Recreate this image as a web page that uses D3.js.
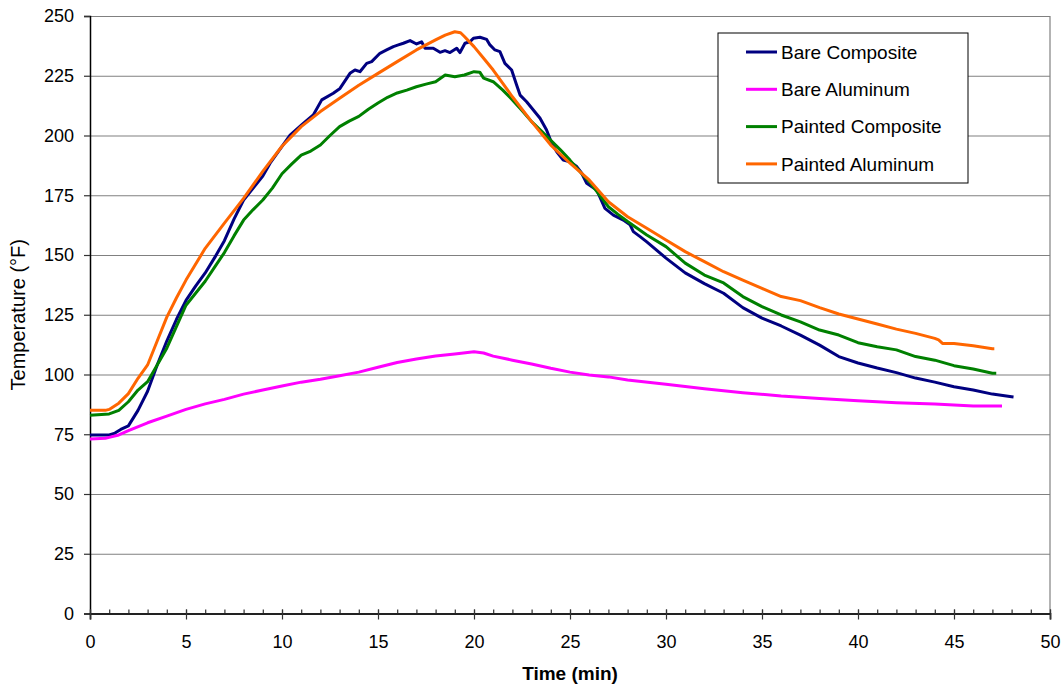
<!DOCTYPE html>
<html>
<head>
<meta charset="utf-8">
<script src="https://cdn.jsdelivr.net/npm/d3@7"></script>
<style>
  body { margin: 0; background: #fff; }
  text { font-family: "Liberation Sans", Arial, sans-serif; fill: #000; }
</style>
</head>
<body>
<svg id="chart"></svg>
<script>
// Set up the dimensions and margins of the plot
const width = 1064;
const height = 685;
const margin = { top: 16, right: 14, bottom: 71.5, left: 90 };

// series data (time in min, temperature in F)
const bareCompositeTime = [0, 1, 1.3, 1.6, 2, 2.5, 3, 3.5, 4, 4.5, 5, 5.5, 6, 6.5, 7, 7.5, 8, 8.5, 9, 9.38,
  10.42, 11.11, 11.63, 12.07, 12.67, 13.02, 13.54, 13.8, 14.06, 14.41, 14.67, 15.1, 15.45, 15.8, 16.06, 16.32,
  16.67, 17.01, 17.27, 17.45, 17.88, 18.23, 18.49, 18.75, 19.1, 19.27, 19.53, 19.79, 19.97, 20.31, 20.66, 20.83,
  21.09, 21.35, 21.61, 21.96, 22.22, 22.4, 22.74, 23.09, 23.44, 23.78, 24.05, 24.31, 24.65, 25, 25.35, 25.61,
  25.87, 26.39, 26.82, 27.26, 27.78, 28.13, 28.3, 28.65, 29, 30, 31, 32, 33, 34, 35, 36, 37, 38, 39, 40, 41,
  42, 43, 44, 45, 46, 47, 48, 48.1];
const bareCompositeTemp = [74.7, 74.7, 75.5, 77, 78.5, 85, 93, 104, 114, 123, 131, 137, 142.5, 149, 156, 165, 173, 178, 183, 188.4,
  200.2, 205.1, 208.6, 214.9, 217.7, 219.7, 226, 227.4, 226.7, 230.2, 230.9, 234.4, 235.8, 237.2, 237.9, 238.6,
  239.7, 238.3, 239.2, 236.5, 236.5, 234.8, 235.5, 234.7, 236.5, 234.7, 238.6, 239.2, 240.7, 241.1, 240.2, 237.9,
  235.8, 235.1, 230.2, 227.4, 221.1, 216.9, 214.1, 210.7, 207.2, 202.3, 196.7, 193.2, 189.7, 189, 187, 184.2,
  180, 177.2, 169.5, 166.7, 164.6, 162.6, 159.8, 157.7, 155.5, 148.7, 142.5, 138, 134, 128, 123.6, 120.3, 116.5,
  112.3, 107.5, 104.8, 102.7, 100.8, 98.5, 96.8, 94.9, 93.5, 91.8, 90.7, 90.6];

const bareAluminumTime = [0, 0.8, 1, 1.5, 2, 3, 4, 5, 6, 7, 8, 9, 10, 11, 12, 13, 14, 15, 16, 17, 18, 19, 20,
  20.5, 21, 22, 23, 24, 25, 26, 27, 28, 30, 32, 34, 36, 38, 40, 42, 44, 46, 47.5];
const bareAluminumTemp = [73, 73.3, 73.7, 74.7, 76.5, 79.8, 82.6, 85.4, 87.7, 89.6, 91.8, 93.5, 95.2, 96.8, 98, 99.5,
  101, 103, 105, 106.5, 107.7, 108.6, 109.5, 109, 107.7, 106, 104.4, 102.6, 101, 99.8, 99, 97.7, 95.9, 94, 92.4,
  91, 90, 89, 88.2, 87.7, 86.8, 86.8];

const paintedCompositeTime = [0, 1, 1.5, 2, 2.5, 3, 3.5, 4, 4.5, 5, 5.5, 6, 6.5, 7, 7.5, 8, 8.5, 9, 9.5, 10,
  10.5, 11, 11.5, 12, 12.5, 13, 13.5, 14, 14.5, 15, 15.5, 16, 16.5, 17, 17.5, 18, 18.5, 19, 19.5, 20, 20.3, 20.5,
  21, 21.5, 22, 22.5, 23, 23.5, 24, 24.5, 25, 25.5, 26, 26.5, 27, 27.5, 28, 29, 30, 31, 32, 33, 34, 35, 36, 37,
  38, 39, 40, 41, 42, 43, 44, 45, 46, 47, 47.2];
const paintedCompositeTemp = [83, 83.5, 85, 88.6, 93.5, 97, 104, 111, 120, 129, 134, 139, 145, 151, 158, 164.6,
  169, 173, 178, 184, 188, 191.8, 193.5, 196, 200, 203.7, 206, 208, 211, 213.6, 216, 217.8, 219, 220.4, 221.5,
  222.5, 225.3, 224.6, 225.3, 226.7, 226.5, 224, 222.5, 219, 214.9, 210.5, 205.8, 202, 198, 194, 189.7, 185,
  180.7, 175.5, 170.2, 167, 164, 158.4, 153.5, 146.6, 141.6, 138.3, 132.6, 128.4, 124.9, 122, 118.6, 116.5,
  113.3, 111.6, 110.3, 107.5, 106, 103.7, 102.3, 100.5, 100.5];

const paintedAluminumTime = [0, 0.8, 1, 1.5, 2, 2.5, 3, 3.5, 4, 4.5, 5, 6, 7, 8, 9, 10, 11, 12, 13, 14, 15, 16,
  17, 18, 18.5, 19, 19.3, 19.5, 20, 20.5, 21, 22, 23, 24, 25, 26, 27, 28, 29, 30, 31, 32, 33, 34, 35, 36, 37,
  38, 39, 40, 41, 42, 43, 44, 44.2, 44.4, 45, 46, 47, 47.1];
const paintedAluminumTemp = [85, 85, 85.4, 88, 92, 98.4, 104, 114, 124, 132, 139.5, 152.8, 163.3, 173.7, 185,
  195.5, 203.7, 210, 215.6, 221, 226, 230.9, 235.8, 240, 242, 243.4, 243, 241.4, 237.2, 232.3, 227.4, 216.2,
  205.8, 196, 188.4, 181.4, 172.3, 166, 161.2, 156.3, 151.4, 147.2, 143, 139.5, 136, 132.6, 130.9, 128, 125.3,
  123.2, 121.1, 119, 117.2, 115.1, 114.5, 113, 113, 112, 110.8, 110.8];

const seriesNames = ["Bare Composite", "Bare Aluminum", "Painted Composite", "Painted Aluminum"];
const seriesColors = ["#000080", "#ff00ff", "#008000", "#ff6600"];
const xTicks = [0, 5, 10, 15, 20, 25, 30, 35, 40, 45, 50];
const yTicks = [0, 25, 50, 75, 100, 125, 150, 175, 200, 225, 250];

const series = [
  { name: seriesNames[0], color: seriesColors[0], t: bareCompositeTime, v: bareCompositeTemp },
  { name: seriesNames[1], color: seriesColors[1], t: bareAluminumTime, v: bareAluminumTemp },
  { name: seriesNames[2], color: seriesColors[2], t: paintedCompositeTime, v: paintedCompositeTemp },
  { name: seriesNames[3], color: seriesColors[3], t: paintedAluminumTime, v: paintedAluminumTemp }
];

const innerW = width - margin.left - margin.right;
const innerH = height - margin.top - margin.bottom;

const svg = d3.select("#chart").attr("width", width).attr("height", height);
const g = svg.append("g").attr("transform", `translate(${margin.left},${margin.top})`);

const xScale = d3.scaleLinear().domain([0, 50]).range([0, innerW]);
const yScale = d3.scaleLinear().domain([0, 250]).range([innerH, 0]);

// horizontal grid lines
g.append("g")
  .call(d3.axisLeft(yScale).tickValues(yTicks.slice(1)).tickSize(-innerW).tickFormat(""))
  .call(s => s.select(".domain").remove())
  .call(s => s.selectAll("line").attr("stroke", "#808080").attr("stroke-width", 1.2));

// right border of plot area
g.append("line")
  .attr("x1", innerW).attr("x2", innerW)
  .attr("y1", 0).attr("y2", innerH)
  .attr("stroke", "#808080").attr("stroke-width", 1.2);

// y axis
const yAxis = g.append("g")
  .call(d3.axisLeft(yScale).tickValues(yTicks).tickSize(6).tickPadding(10));
yAxis.select(".domain").attr("stroke", "#000").attr("stroke-width", 1.5);
yAxis.selectAll("line").attr("stroke", "#333").attr("stroke-width", 1.2);
yAxis.selectAll("text").attr("font-size", "18px").attr("font-family", "Liberation Sans, Arial, sans-serif");

// x axis minor ticks (inside)
g.append("g")
  .attr("transform", `translate(0,${innerH})`)
  .call(d3.axisBottom(xScale).tickValues(d3.range(0, 51, 1)).tickSize(-4).tickFormat(""))
  .call(s => s.select(".domain").remove())
  .call(s => s.selectAll("line").attr("stroke", "#333").attr("stroke-width", 1.2));

// x axis major ticks (cross)
const xAxis = g.append("g")
  .attr("transform", `translate(0,${innerH})`)
  .call(d3.axisBottom(xScale).tickValues(xTicks).tickSize(6).tickPadding(16));
xAxis.select(".domain").attr("stroke", "#222").attr("stroke-width", 1.8);
xAxis.selectAll(".tick line").attr("y1", -4).attr("stroke", "#333").attr("stroke-width", 1.2);
xAxis.selectAll("text").attr("font-size", "18px").attr("font-family", "Liberation Sans, Arial, sans-serif");

// data lines
series.forEach(s => {
  const pts = s.t.map((t, i) => [t, s.v[i]]);
  g.append("path")
    .datum(pts)
    .attr("fill", "none")
    .attr("stroke", s.color)
    .attr("stroke-width", 3)
    .attr("stroke-linejoin", "round")
    .attr("d", d3.line().x(d => xScale(d[0])).y(d => yScale(d[1])));
});

// axis titles
svg.append("text")
  .attr("x", margin.left + innerW / 2)
  .attr("y", 680)
  .attr("text-anchor", "middle")
  .attr("font-size", "19px")
  .attr("font-weight", "bold")
  .text("Time (min)");

svg.append("text")
  .attr("transform", `translate(25,${margin.top + innerH / 2}) rotate(-90)`)
  .attr("text-anchor", "middle")
  .attr("font-size", "20px")
  .text("Temperature (°F)");

// legend
const legend = svg.append("g").attr("transform", "translate(718,33)");
legend.append("rect")
  .attr("width", 250).attr("height", 150)
  .attr("fill", "#fff").attr("stroke", "#000").attr("stroke-width", 1);
series.forEach((s, i) => {
  const ly = 19 + i * 37.3;
  legend.append("line")
    .attr("x1", 28).attr("x2", 59).attr("y1", ly).attr("y2", ly)
    .attr("stroke", s.color).attr("stroke-width", 3);
  legend.append("text")
    .attr("x", 63).attr("y", ly + 6.8)
    .attr("font-size", "19px")
    .text(s.name);
});
</script>
</body>
</html>
